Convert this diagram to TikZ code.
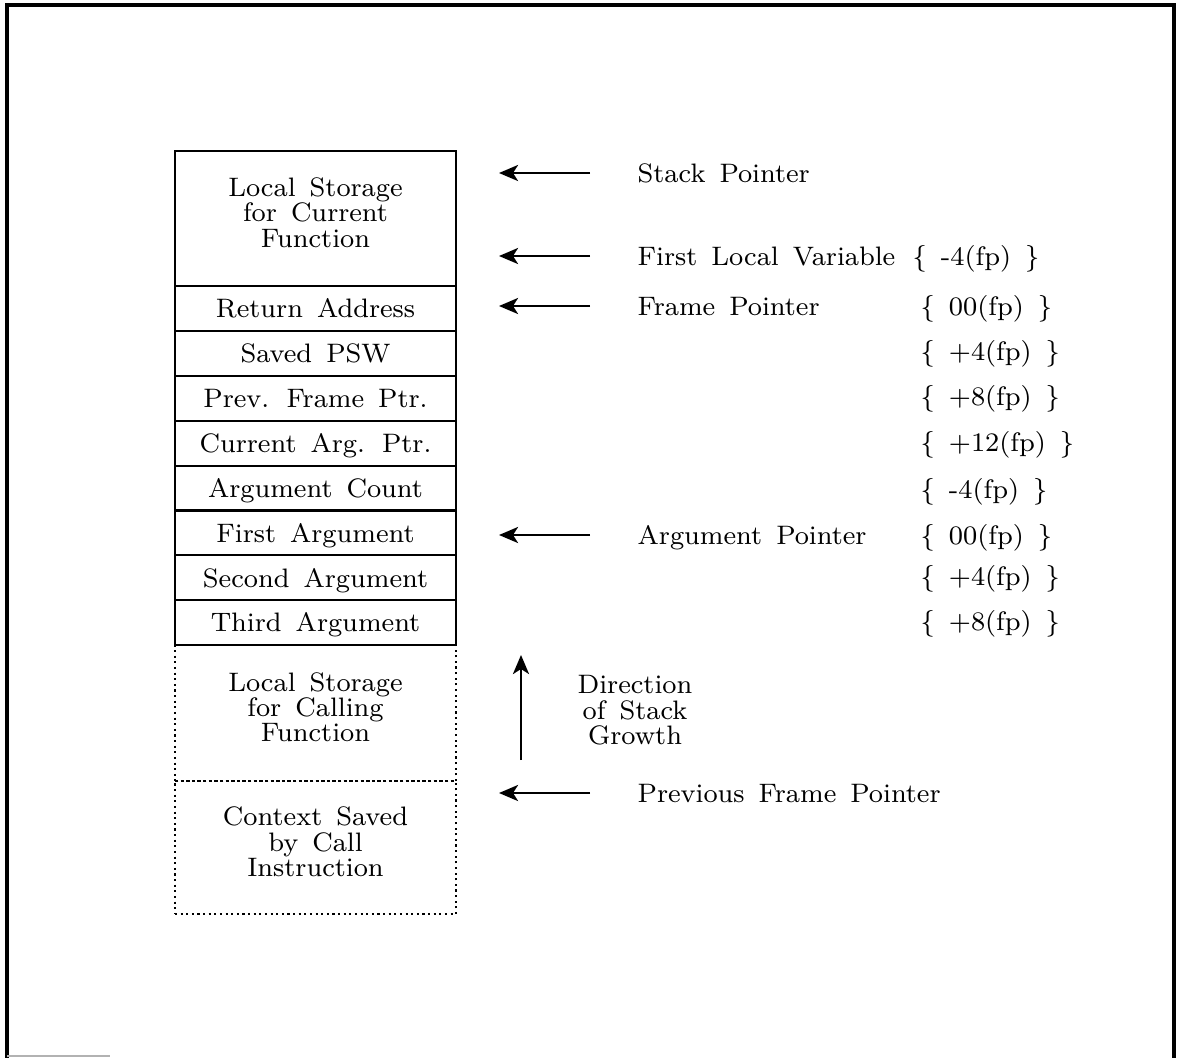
\documentclass[tikz,border=0pt]{standalone}
\usepackage{tikz}
\usetikzlibrary{arrows.meta,positioning}

\newcommand\stackfont{\fontsize{7.6}{7.2}\selectfont\spaceskip=4pt plus 1pt minus 1pt\relax}

\begin{document}
\begin{tikzpicture}[
x=0.1mm, y=-0.1mm,
font=\stackfont,
node distance=0pt,
cell/.style={draw, line width=0.6pt, outer sep=0pt, inner sep=0pt, minimum width=28.1mm, minimum height=4.49mm, text height=1.83mm, text depth=0pt},
bigcell/.style={draw, line width=0.6pt, outer sep=0pt, inner sep=0pt, minimum width=28.1mm, align=center, text depth=1.2mm},
callcell/.style={bigcell, densely dotted},
ptrlabel/.style={anchor=west, inner sep=0pt, text height=1.83mm, text depth=0pt},
fpoffset/.style={ptrlabel},
ptr/.style={-{Stealth[length=1.9mm, width=1.6mm, inset=0.5mm]}, line width=0.8pt},
frame/.style={line width=1.3pt}
]
\useasboundingbox (0,0) rectangle (1179,1058);

% stack frame
\node[bigcell, minimum height=13.5mm] (curlocal) at (315.5,218.5) {Local Storage\\for Current\\Function};
\node[cell, below=of curlocal] (retaddr) {Return Address};
\node[cell, below=of retaddr] (psw) {Saved PSW};
\node[cell, below=of psw] (prevfp) {Prev. Frame Ptr.};
\node[cell, below=of prevfp] (curap) {Current Arg. Ptr.};
\node[cell, below=of curap] (argcount) {Argument Count};
\node[cell, below=of argcount] (arg1) {First Argument};
\node[cell, below=of arg1] (arg2) {Second Argument};
\node[cell, below=of arg2] (arg3) {Third Argument};
\node[callcell, minimum height=13.6mm, below=of arg3] (calllocal) {Local Storage\\for Calling\\Function};
\node[callcell, minimum height=13.3mm, below=of calllocal] (ctxsaved) {Context Saved\\by Call\\Instruction};

% pointers
\node[ptrlabel] (sp) at (637,173) {Stack Pointer};
\node[ptrlabel] (flv) at (637,256) {First Local Variable};
\node[ptrlabel] (fp) at (637,306) {Frame Pointer};
\node[ptrlabel] (ap) at (637,535) {Argument Pointer};
\node[ptrlabel] (pfp) at (637,793) {Previous Frame Pointer};
\foreach \n in {sp,flv,fp,ap,pfp}
  \draw[ptr] ([xshift=-4.7mm]\n.west) -- ([xshift=-13.8mm]\n.west);

% offsets
\node[fpoffset] (off0) at (912,256) {\{ -4(fp) \}};
\foreach \y/\txt [count=\i] in {306/00, 351/+4, 396/+8, 442/+12, 489/-4, 535/00, 576/+4, 621/+8}
  \node[fpoffset] (off\i) at (920,\y) {\{ \txt(fp) \}};

% growth
\node[align=center, text depth=1.2mm] (growth) at (635,716) {Direction\\of Stack\\Growth};
\coordinate (growth tail) at (521,760);
\coordinate (growth head) at (521,655);
\draw[ptr] (growth tail) -- (growth head);

% border
\draw[frame] (7,1058) -- (7,5) -- (1174,5) -- (1174,1058);
\draw[gray!60, line width=0.4pt] (7,1056) -- (110,1056);
\end{tikzpicture}
\end{document}
